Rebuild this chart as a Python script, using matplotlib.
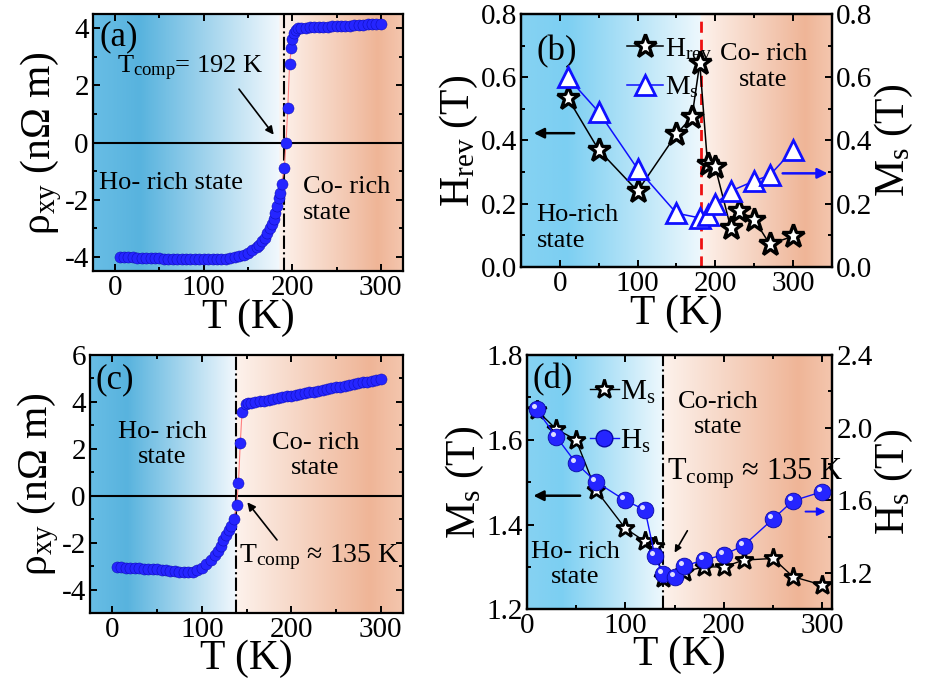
import numpy as np
import matplotlib
matplotlib.use("Agg")
import matplotlib.pyplot as plt
from matplotlib.colors import LinearSegmentedColormap
from matplotlib.lines import Line2D
from matplotlib.ticker import MultipleLocator, FormatStrFormatter
from matplotlib.transforms import ScaledTranslation

plt.rcParams["font.family"] = ["Liberation Serif", "DejaVu Serif"]
plt.rcParams["mathtext.fontset"] = "custom"
plt.rcParams["mathtext.rm"] = "Liberation Serif"
plt.rcParams["mathtext.it"] = "Liberation Serif:italic"
plt.rcParams["axes.unicode_minus"] = False
plt.rcParams["axes.linewidth"] = 1.6

# %% data
# (a) rho_xy vs T, sample 1
Ta = [5, 10, 15, 20, 25, 30, 35, 40, 45, 50, 55, 60, 65, 70, 75, 80, 85, 90, 95, 100,
      105, 110, 115, 120, 125, 130, 135, 140, 145, 150, 155, 160, 163, 166, 169, 172,
      175, 177, 179, 181, 183, 185, 186, 188, 191, 193, 195, 197, 199, 200, 202, 204,
      207, 210, 215, 220, 225, 230, 235, 240, 245, 250, 255, 260, 265, 270, 275, 280,
      285, 290, 295, 300]
rho_a = [-4.00, -4.01, -4.02, -4.02, -4.03, -4.03, -4.04, -4.04, -4.05, -4.05, -4.06,
         -4.06, -4.06, -4.07, -4.07, -4.07, -4.07, -4.08, -4.08, -4.08, -4.08, -4.08,
         -4.07, -4.07, -4.06, -4.04, -4.01, -3.97, -3.92, -3.86, -3.77, -3.66, -3.57,
         -3.46, -3.33, -3.18, -3.00, -2.85, -2.68, -2.47, -2.22, -1.95, -1.75, -1.45,
         -0.90, 0.00, 1.22, 2.74, 3.33, 3.62, 3.85, 3.94, 4.00, 4.02, 4.03, 4.04, 4.04,
         4.05, 4.06, 4.06, 4.07, 4.08, 4.09, 4.10, 4.10, 4.11, 4.12, 4.13, 4.14, 4.15,
         4.16, 4.17]

# (b) H_rev and M_s vs T
Tb_h = [10, 50, 100, 150, 170, 180, 190, 200, 220, 230, 250, 270, 300]
Hrev = [0.535, 0.37, 0.24, 0.42, 0.475, 0.645, 0.325, 0.315, 0.122, 0.178, 0.15, 0.072, 0.097]
Tb_m = [10, 50, 100, 150, 180, 190, 200, 220, 250, 270, 300]
Ms_b = [0.60, 0.49, 0.31, 0.17, 0.155, 0.165, 0.20, 0.24, 0.272, 0.29, 0.37]

# (c) rho_xy vs T, sample 2
Tc = [5, 10, 15, 20, 25, 30, 35, 40, 45, 50, 55, 60, 65, 70, 75, 80, 85, 90, 95, 100,
      105, 110, 115, 118, 121, 124, 127, 130, 133, 136, 139, 141, 143, 145, 149, 152,
      155, 160, 165, 170, 175, 180, 185, 190, 195, 200, 205, 210, 215, 220, 225, 230,
      235, 240, 245, 250, 255, 260, 265, 270, 275, 280, 285, 290, 295, 300]
rho_c = [-3.04, -3.05, -3.06, -3.07, -3.08, -3.09, -3.10, -3.11, -3.12, -3.13, -3.14,
         -3.16, -3.18, -3.21, -3.23, -3.25, -3.25, -3.23, -3.16, -3.06, -2.92, -2.74,
         -2.50, -2.33, -2.13, -1.90, -1.65, -1.45, -1.30, -0.97, -0.37, 0.57, 2.24,
         3.56, 3.90, 3.95, 3.97, 4.00, 4.03, 4.06, 4.10, 4.13, 4.17, 4.20, 4.24, 4.27,
         4.30, 4.34, 4.37, 4.41, 4.44, 4.48, 4.51, 4.55, 4.58, 4.62, 4.65, 4.69, 4.72,
         4.76, 4.79, 4.83, 4.86, 4.90, 4.94, 4.99]

# (d) M_s and H_s vs T
Td_m = [10, 30, 50, 70, 100, 120, 130, 138, 160, 180, 200, 220, 250, 270, 300]
Ms_d = [1.67, 1.625, 1.60, 1.482, 1.391, 1.36, 1.35, 1.273, 1.289, 1.30, 1.30, 1.316,
        1.32, 1.277, 1.257]
Td_h = [10, 30, 50, 70, 100, 120, 130, 138, 150, 160, 180, 200, 220, 250, 270, 300]
Hs_d = [2.10, 1.95, 1.805, 1.703, 1.599, 1.547, 1.294, 1.193, 1.18, 1.239, 1.272, 1.30,
        1.351, 1.498, 1.597, 1.648]

# %% figure
fig = plt.figure(figsize=(9.25, 6.88), dpi=100)
ax_a = fig.add_axes([0.1005, 0.606, 0.3351, 0.3735])
ax_b = fig.add_axes([0.5632, 0.612, 0.3362, 0.3677])
ax_c = fig.add_axes([0.0973, 0.1086, 0.3384, 0.3754])
ax_d = fig.add_axes([0.5694, 0.1144, 0.3304, 0.3696])

TICK = 21
LAB = 30
TXT = 19
BALL = "#2525ff"
BALL_EDGE = "#0808a8"


def shade(ax, xb, blues, peaches):
    x0, x1 = ax.get_xlim()
    y0, y1 = ax.get_ylim()
    fb = (xb - x0) / (x1 - x0)
    stops = [(0, blues[0]), (fb * 0.25, blues[1]), (fb * 0.999, blues[2]),
             (fb, peaches[0]), (fb + (1 - fb) * 0.8, peaches[1]), (1, peaches[2])]
    cmap = LinearSegmentedColormap.from_list("bg", stops)
    grad = np.linspace(0, 1, 600).reshape(1, -1)
    ax.imshow(grad, cmap=cmap, extent=[x0, x1, y0, y1], aspect="auto",
              zorder=0, interpolation="bilinear")
    ax.set_xlim(x0, x1)
    ax.set_ylim(y0, y1)


def style(ax, xmaj, xmin, ymaj, ymin, yfmt=None, right=True):
    ax.xaxis.set_major_locator(MultipleLocator(xmaj))
    ax.xaxis.set_minor_locator(MultipleLocator(xmin))
    ax.yaxis.set_major_locator(MultipleLocator(ymaj))
    ax.yaxis.set_minor_locator(MultipleLocator(ymin))
    if yfmt:
        ax.yaxis.set_major_formatter(FormatStrFormatter(yfmt))
    ax.tick_params(which="both", direction="in", top=True, right=right,
                   labelsize=TICK, width=1.4, pad=3)
    ax.tick_params(which="major", length=5)
    ax.tick_params(which="minor", length=3)


def balls(ax, x, y, ms, highlight=True, mew=0.6):
    ax.plot(x, y, "o", ms=ms, mfc=BALL, mec=BALL_EDGE, mew=mew, zorder=4)
    if highlight:
        off = ScaledTranslation(-ms * 0.18 / 72, ms * 0.18 / 72, fig.dpi_scale_trans)
        ax.plot(x, y, "o", ms=ms * 0.3, mfc="white", mec="none", alpha=0.85,
                transform=ax.transData + off, zorder=5)


blue_a = ["#68bde5", "#58b3de", "#f2f8fd"]
peach = ["#fdf2ec", "#efb597", "#f4c6ae"]
blue_b = ["#86d2f2", "#7ccff2", "#eef8fd"]

# %% (a)
ax = ax_a
ax.set_xlim(-25, 325)
ax.set_ylim(-4.5, 4.5)
shade(ax, 186, blue_a, peach)
ax.axhline(0, color="k", lw=1.5, zorder=2)
ax.axvline(191, color="k", lw=1.5, ls="-.", zorder=2)
ax.plot(Ta, rho_a, "-", color="#ff8080", lw=0.8, zorder=3)
balls(ax, Ta, rho_a, 8, highlight=False, mew=0.3)
style(ax, 100, 50, 2, 1)
ax.set_xlabel("T (K)", fontsize=LAB, labelpad=-2)
ax.set_ylabel(r"ρ$_{\mathrm{xy}}$ (nΩ m)", fontsize=LAB, labelpad=0)
ax.text(-18, 3.7, "(a)", fontsize=25, va="center", ha="left")
ax.text(2, 2.6, r"T$_{\mathrm{comp}}$= 192 K", fontsize=TXT, va="center", ha="left")
ax.annotate("", xy=(181, 0.2), xytext=(138, 1.95),
            arrowprops=dict(arrowstyle="-|>", color="k", lw=1.2, mutation_scale=12))
ax.text(-18, -1.4, "Ho- rich state", fontsize=TXT, va="center", ha="left")
ax.text(212, -2.0, "Co- rich\nstate", fontsize=TXT, va="center", ha="left",
        linespacing=1.25)

# %% (b)
ax = ax_b
ax.set_xlim(-50, 350)
ax.set_ylim(0, 0.8)
shade(ax, 182, blue_b, peach)
ax.axvline(182, color="#ee1111", lw=2, ls=(0, (4, 2.5)), zorder=2)
ax.plot(Tb_h, Hrev, "-", color="k", lw=1.1, zorder=3)
ax.plot(Tb_h, Hrev, "*", ms=17, mfc="white", mec="k", mew=2.4, zorder=4)
style(ax, 100, 50, 0.2, 0.1, "%.1f", right=False)
ax.set_xlabel("T (K)", fontsize=LAB, labelpad=-2)
ax.set_ylabel(r"H$_{\mathrm{rev}}$ (T)", fontsize=LAB, labelpad=0)
ax.text(-30, 0.68, "(b)", fontsize=25, va="center", ha="left")
ax.text(-30, 0.122, "Ho-rich\nstate", fontsize=TXT, va="center", ha="left",
        linespacing=1.25)
ax.text(262, 0.632, "Co- rich\nstate", fontsize=TXT, va="center", ha="center",
        linespacing=1.2)
ax.annotate("", xy=(-37, 0.423), xytext=(22, 0.423),
            arrowprops=dict(arrowstyle="-|>", color="k", lw=1.8, mutation_scale=15))
axb2 = ax.twinx()
axb2.set_ylim(0, 0.8)
axb2.plot(Tb_m, Ms_b, "-", color="#1010ff", lw=1.1, zorder=3)
axb2.plot(Tb_m, Ms_b, "^", ms=15, mfc="white", mec="#1010ff", mew=2, zorder=4)
axb2.yaxis.set_major_locator(MultipleLocator(0.2))
axb2.yaxis.set_minor_locator(MultipleLocator(0.1))
axb2.yaxis.set_major_formatter(FormatStrFormatter("%.1f"))
axb2.tick_params(which="both", direction="in", labelsize=TICK, width=1.4, pad=3)
axb2.tick_params(which="major", length=5)
axb2.tick_params(which="minor", length=3)
axb2.set_ylabel(r"M$_{\mathrm{s}}$ (T)", fontsize=LAB, labelpad=0)
axb2.annotate("", xy=(348, 0.296), xytext=(283, 0.296),
              arrowprops=dict(arrowstyle="-|>", color="#1010ff", lw=1.8, mutation_scale=15))
hb = [Line2D([], [], color="k", lw=1.1, marker="*", ms=17, mfc="white", mec="k", mew=2.4),
      Line2D([], [], color="#1010ff", lw=1.1, marker="^", ms=15, mfc="white",
             mec="#1010ff", mew=2)]
axb2.legend(hb, [r"H$_{\mathrm{rev}}$", r"M$_{\mathrm{s}}$"], loc="upper left",
            bbox_to_anchor=(0.27, 1.0), frameon=False, fontsize=20, handlelength=1.3,
            handletextpad=0.05, labelspacing=0.45, borderpad=0.3)

# %% (c)
ax = ax_c
ax.set_xlim(-25, 325)
ax.set_ylim(-5, 6)
shade(ax, 138, blue_a, peach)
ax.axhline(0, color="k", lw=1.5, zorder=2)
ax.axvline(138, color="k", lw=1.5, ls="-.", zorder=2)
ax.plot(Tc, rho_c, "-", color="#ff8080", lw=0.8, zorder=3)
balls(ax, Tc, rho_c, 8, highlight=False, mew=0.3)
style(ax, 100, 50, 2, 1)
ax.set_xlabel("T (K)", fontsize=LAB, labelpad=-3)
ax.set_ylabel(r"ρ$_{\mathrm{xy}}$ (nΩ m)", fontsize=LAB, labelpad=0)
ax.text(-19, 4.95, "(c)", fontsize=25, va="center", ha="left")
ax.text(56, 2.2, "Ho- rich\nstate", fontsize=TXT, va="center", ha="center",
        linespacing=1.2)
ax.text(227, 1.72, "Co- rich\nstate", fontsize=TXT, va="center", ha="center",
        linespacing=1.2)
ax.text(142, -2.6, r"T$_{\mathrm{comp}}$ ≈ 135 K", fontsize=20, va="center", ha="left")
ax.annotate("", xy=(149, -0.18), xytext=(186, -1.97),
            arrowprops=dict(arrowstyle="-|>", color="k", lw=1.2, mutation_scale=12))

# %% (d)
ax = ax_d
ax.set_xlim(0, 310)
ax.set_ylim(1.2, 1.8)
shade(ax, 138, blue_b, peach)
ax.axvline(138, color="k", lw=1.5, ls="-.", zorder=2)
ax.plot(Td_m, Ms_d, "-", color="k", lw=1.0, zorder=3)
ax.plot(Td_m, Ms_d, "*", ms=14, mfc="white", mec="k", mew=2.0, zorder=4)
style(ax, 100, 50, 0.2, 0.1, "%.1f", right=False)
ax.set_xlabel("T (K)", fontsize=LAB, labelpad=-3)
ax.set_ylabel(r"M$_{\mathrm{s}}$ (T)", fontsize=LAB, labelpad=0)
ax.text(6, 1.742, "(d)", fontsize=25, va="center", ha="left")
ax.text(194, 1.66, "Co-rich\nstate", fontsize=TXT, va="center", ha="center",
        linespacing=1.2)
ax.text(49, 1.305, "Ho- rich\nstate", fontsize=TXT, va="center", ha="center",
        linespacing=1.2)
ax.text(142, 1.52, r"T$_{\mathrm{comp}}$ ≈ 135 K", fontsize=22, va="center", ha="left")
ax.annotate("", xy=(148.6, 1.328), xytext=(164.4, 1.391),
            arrowprops=dict(arrowstyle="-|>", color="k", lw=1.2, mutation_scale=10))
ax.annotate("", xy=(4, 1.468), xytext=(57, 1.468),
            arrowprops=dict(arrowstyle="-|>", color="k", lw=1.8, mutation_scale=15))
axd2 = ax.twinx()
axd2.set_ylim(1.0, 2.4)
axd2.plot(Td_h, Hs_d, "-", color="#1010ff", lw=1.0, zorder=3)
balls(axd2, Td_h, Hs_d, 12)
axd2.yaxis.set_major_locator(MultipleLocator(0.4))
axd2.yaxis.set_minor_locator(MultipleLocator(0.2))
axd2.yaxis.set_major_formatter(FormatStrFormatter("%.1f"))
axd2.tick_params(which="both", direction="in", labelsize=TICK, width=1.4, pad=3)
axd2.tick_params(which="major", length=5)
axd2.tick_params(which="minor", length=3)
axd2.set_ylabel(r"H$_{\mathrm{s}}$ (T)", fontsize=LAB, labelpad=0)
axd2.annotate("", xy=(306, 1.538), xytext=(280, 1.538),
              arrowprops=dict(arrowstyle="-|>", color="#1010ff", lw=1.4, mutation_scale=12))
hd = [Line2D([], [], color="k", lw=1.0, marker="*", ms=14, mfc="white", mec="k", mew=2.0),
      Line2D([], [], color="#1010ff", lw=1.0, marker="o", ms=12, mfc=BALL, mec=BALL_EDGE)]
axd2.legend(hd, [r"M$_{\mathrm{s}}$", r"H$_{\mathrm{s}}$"], loc="upper left",
            bbox_to_anchor=(0.13, 1.0), frameon=False, fontsize=21, handlelength=1.0,
            handletextpad=0.05, labelspacing=0.75, borderpad=0.3)

fig.savefig("out.png", dpi=100)
